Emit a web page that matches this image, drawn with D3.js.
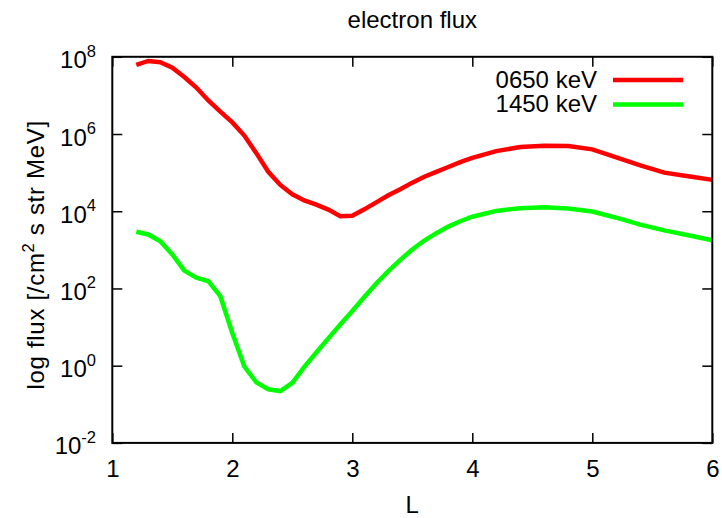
<!DOCTYPE html>
<html>
<head>
<meta charset="utf-8">
<script src="https://cdn.jsdelivr.net/npm/d3@7"></script>
<style>
  html, body { margin: 0; padding: 0; background: #fff; }
  svg { display: block; }
  text { font-family: "Liberation Sans", Arial, Helvetica, sans-serif; fill: #000; }
</style>
</head>
<body>
<svg id="chart" width="722" height="518"></svg>
<script>
// L-shell values at which both energy channels are sampled
const lShell = [1.2, 1.3, 1.4, 1.5, 1.6, 1.7, 1.8, 1.9, 2.0, 2.1, 2.2, 2.3, 2.4, 2.5,
  2.6, 2.7, 2.8, 2.9, 3.0, 3.1, 3.2, 3.3, 3.4, 3.5, 3.6, 3.7, 3.8, 3.9, 4.0,
  4.2, 4.4, 4.6, 4.8, 5.0, 5.2, 5.4, 5.6, 5.8, 6.0];

// Electron flux [/cm^2 s str MeV], 0650 keV channel
const flux0650 = [6.2e7, 7.8e7, 7.2e7, 5.2e7, 3.0e7, 1.6e7, 7.4e6, 3.8e6, 2.0e6, 9.1e5,
  3.2e5, 1.05e5, 4.8e4, 2.75e4, 1.9e4, 1.48e4, 1.1e4, 7.4e3, 7.6e3, 1.12e4,
  1.7e4, 2.6e4, 3.7e4, 5.5e4, 7.8e4, 1.05e5, 1.4e5, 1.86e5, 2.4e5,
  3.6e5, 4.6e5, 5.0e5, 4.9e5, 4.0e5, 2.5e5, 1.55e5, 1.0e5, 8.1e4, 6.5e4];

// Electron flux [/cm^2 s str MeV], 1450 keV channel
const flux1450 = [2.95e3, 2.5e3, 1.66e3, 7.6e2, 2.9e2, 1.9e2, 1.55e2, 6.3e1, 7.0e0, 9.5e-1,
  3.7e-1, 2.45e-1, 2.2e-1, 3.6e-1, 9.3e-1, 2.2e0, 5.1e0, 1.17e1, 2.6e1, 6.0e1,
  1.35e2, 2.8e2, 5.5e2, 1.02e3, 1.74e3, 2.7e3, 4.0e3, 5.5e3, 7.2e3,
  1.02e4, 1.2e4, 1.26e4, 1.18e4, 9.8e3, 6.8e3, 4.5e3, 3.2e3, 2.4e3, 1.78e3];

const series = [
  { name: "0650 keV", values: flux0650, color: "#ff0000" },
  { name: "1450 keV", values: flux1450, color: "#00ff00" }
];

const xTicks = [1, 2, 3, 4, 5, 6];
const yExponents = [-2, 0, 2, 4, 6, 8];

const svg = d3.select("#chart");
const FS = 24;

const plotLeft = 112.3, plotRight = 712.3, plotTop = 56.8, plotBottom = 442.9;

const x = d3.scaleLinear().domain([1, 6]).range([plotLeft, plotRight]);
const y = d3.scaleLog().domain([1e-2, 1e8]).range([plotBottom, plotTop]);
const yTickValues = yExponents.map(e => Math.pow(10, e));

// Curves
const line = d3.line()
  .x((d, i) => x(lShell[i]))
  .y(d => y(d));

svg.append("g")
  .selectAll("path")
  .data(series)
  .join("path")
  .attr("d", d => line(d.values))
  .attr("fill", "none")
  .attr("stroke", d => d.color)
  .attr("stroke-width", 4.5)
  .attr("stroke-linejoin", "miter");

// Inward ticks on all four sides
function styleAxis(g) {
  g.select(".domain").remove();
  g.selectAll(".tick line").attr("stroke", "#000").attr("stroke-width", 1.5);
}

svg.append("g")
  .attr("transform", `translate(0,${plotBottom})`)
  .call(d3.axisBottom(x).tickValues(xTicks).tickSizeInner(-10).tickSizeOuter(0)
    .tickPadding(17).tickFormat(d3.format("d")))
  .call(styleAxis)
  .call(g => g.selectAll(".tick text")
    .attr("font-size", FS)
    .attr("font-family", "Liberation Sans, Arial, sans-serif")
    .attr("fill", "#000"));

svg.append("g")
  .attr("transform", `translate(0,${plotTop})`)
  .call(d3.axisTop(x).tickValues(xTicks).tickSizeInner(-10).tickSizeOuter(0).tickFormat(""))
  .call(styleAxis);

svg.append("g")
  .attr("transform", `translate(${plotLeft},0)`)
  .call(d3.axisLeft(y).tickValues(yTickValues).tickSizeInner(-10).tickSizeOuter(0).tickFormat(""))
  .call(styleAxis);

svg.append("g")
  .attr("transform", `translate(${plotRight},0)`)
  .call(d3.axisRight(y).tickValues(yTickValues).tickSizeInner(-10).tickSizeOuter(0).tickFormat(""))
  .call(styleAxis);

// Y tick labels with superscript exponents
const yLab = svg.append("g")
  .selectAll("text")
  .data(yExponents)
  .join("text")
  .attr("x", 96)
  .attr("y", e => y(Math.pow(10, e)) + 11.5)
  .attr("text-anchor", "end")
  .attr("font-size", FS);
yLab.append("tspan").text("10");
yLab.append("tspan").attr("dy", -11.5).attr("font-size", 16.5).text(e => e);

// Frame
svg.append("rect")
  .attr("x", plotLeft).attr("y", plotTop)
  .attr("width", plotRight - plotLeft).attr("height", plotBottom - plotTop)
  .attr("fill", "none").attr("stroke", "#000").attr("stroke-width", 2);

// Title
svg.append("text")
  .attr("x", (plotLeft + plotRight) / 2).attr("y", 28.3)
  .attr("text-anchor", "middle").attr("font-size", FS)
  .text("electron flux");

// X axis label
svg.append("text")
  .attr("x", (plotLeft + plotRight) / 2).attr("y", 513)
  .attr("text-anchor", "middle").attr("font-size", FS)
  .text("L");

// Y axis label
const yTitle = svg.append("text")
  .attr("transform", `translate(44,${(plotTop + plotBottom) / 2 + 5}) rotate(-90)`)
  .attr("text-anchor", "middle").attr("font-size", FS)
  .attr("letter-spacing", 0.7);
yTitle.append("tspan").text("log flux [/cm");
yTitle.append("tspan").attr("dy", -10).attr("font-size", 16.5).text("2");
yTitle.append("tspan").attr("dy", 10).text(" s str MeV]");

// Legend
const legend = svg.append("g")
  .selectAll("g")
  .data(series)
  .join("g")
  .attr("transform", (d, i) => `translate(0,${80 + i * 24.5})`);
legend.append("text")
  .attr("x", 597).attr("y", 7.5)
  .attr("text-anchor", "end").attr("font-size", FS)
  .text(d => d.name);
legend.append("line")
  .attr("x1", 613).attr("x2", 683)
  .attr("y1", 0).attr("y2", 0)
  .attr("stroke", d => d.color).attr("stroke-width", 4.5);
</script>
</body>
</html>
